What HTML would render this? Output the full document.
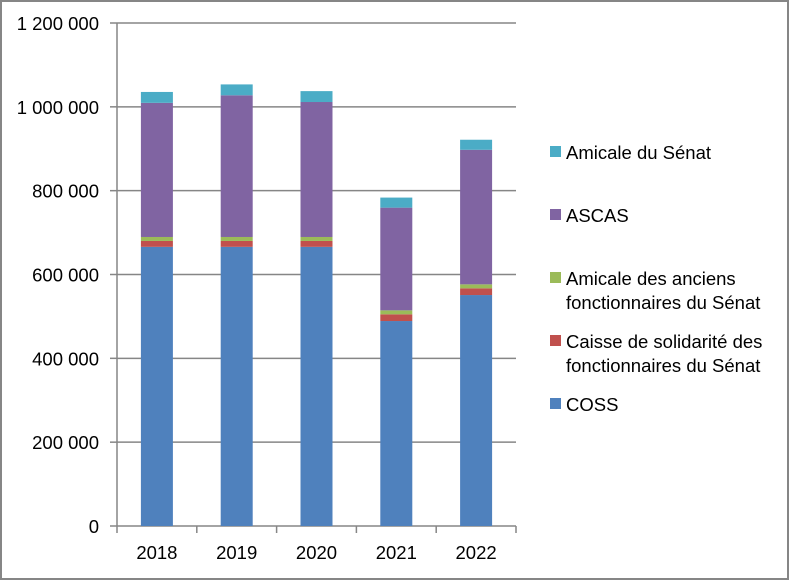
<!DOCTYPE html>
<html><head><meta charset="utf-8"><style>
html,body{margin:0;padding:0;background:#fff}
svg{display:block;font-family:"Liberation Sans",sans-serif}
</style></head><body>
<svg id="chart" width="789" height="580" xmlns="http://www.w3.org/2000/svg">
<rect x="1" y="1" width="787" height="578" fill="#fff" stroke="#868686" stroke-width="2"/>
<g id="grid"></g>
<g id="bars"></g>
<g id="axes"></g>
<g id="legend"></g>
</svg>
<script>
const categories = ["2018","2019","2020","2021","2022"];
const coss = [666000, 666000, 666000, 489000, 551000];
const caisse = [14000, 14000, 14000, 16000, 16000];
const amicaleAnciens = [9500, 9500, 9500, 9500, 9500];
const ascas = [320000, 338000, 322000, 245000, 321000];
const amicaleSenat = [26000, 26000, 26000, 24000, 24000];
const yTicks = [0,200000,400000,600000,800000,1000000,1200000];
const yTickLabels = ["0","200 000","400 000","600 000","800 000","1 000 000","1 200 000"];
const seriesNames = ["COSS","Caisse de solidarité des|fonctionnaires du Sénat","Amicale des anciens|fonctionnaires du Sénat","ASCAS","Amicale du Sénat"];
const seriesColors = ["#4f81bd","#c0504d","#9bbb59","#8064a2","#4bacc6"];
const seriesData = [coss, caisse, amicaleAnciens, ascas, amicaleSenat];

const NS="http://www.w3.org/2000/svg";
const X0=117, X1=516, Y0=526, YT=23, YMAX=1200000, FS=18.5;
const y = v => Y0 - v/YMAX*(Y0-YT);
const catW = (X1-X0)/categories.length;
const xc = i => X0 + catW*(i+0.5);
function mk(tag, attrs, parent){const e=document.createElementNS(NS,tag);for(const k in attrs)e.setAttribute(k,attrs[k]);parent.appendChild(e);return e;}
const axes=document.getElementById('axes'), bars=document.getElementById('bars'), legend=document.getElementById('legend');

yTicks.forEach((t,i)=>{
  const l=mk('line',{x1:X0,x2:X1,y1:y(t),y2:y(t),stroke:'#868686','stroke-width':1.5},document.getElementById('grid'));
  
  
  const tk=mk('line',{x1:X0-7,x2:X0,y1:y(t),y2:y(t),stroke:'#868686','stroke-width':1.5},axes);
  
  
  const tx=mk('text',{x:99,y:y(t)+7,'text-anchor':'end','font-size':FS,fill:'#000'},axes);
  tx.textContent=yTickLabels[i];
  
  
});
const ya=mk('line',{x1:X0,x2:X0,y1:YT,y2:Y0,stroke:'#868686','stroke-width':1.5},axes);


for(let i=0;i<=categories.length;i++){
  const xx=X0+catW*i;
  const tk=mk('line',{x1:xx,x2:xx,y1:Y0,y2:Y0+7,stroke:'#868686','stroke-width':1.5},axes);
  
  
}
categories.forEach((c,i)=>{
  const tx=mk('text',{x:xc(i),y:559,'text-anchor':'middle','font-size':FS,fill:'#000'},axes);
  tx.textContent=c;
  
  
  let acc=0;
  seriesData.forEach((s,k)=>{
    const v=s[i];
    const r=mk('rect',{x:xc(i)-16,width:32,y:y(acc+v),height:y(acc)-y(acc+v),fill:seriesColors[k]},bars);
    
    
    acc+=v;
  });
});
const legendY=[404,341,278,215,152];
seriesNames.forEach((n,k)=>{
  const g=mk('g',{},legend);
  
  
  mk('rect',{x:550,y:legendY[k]-6,width:11,height:11,fill:seriesColors[k]},g);
  n.split('|').forEach((line,j)=>{
    const t=mk('text',{x:566,y:legendY[k]+7+j*24,'font-size':FS,fill:'#000'},g);
    t.textContent=line;
  });
});
</script>
</body></html>
